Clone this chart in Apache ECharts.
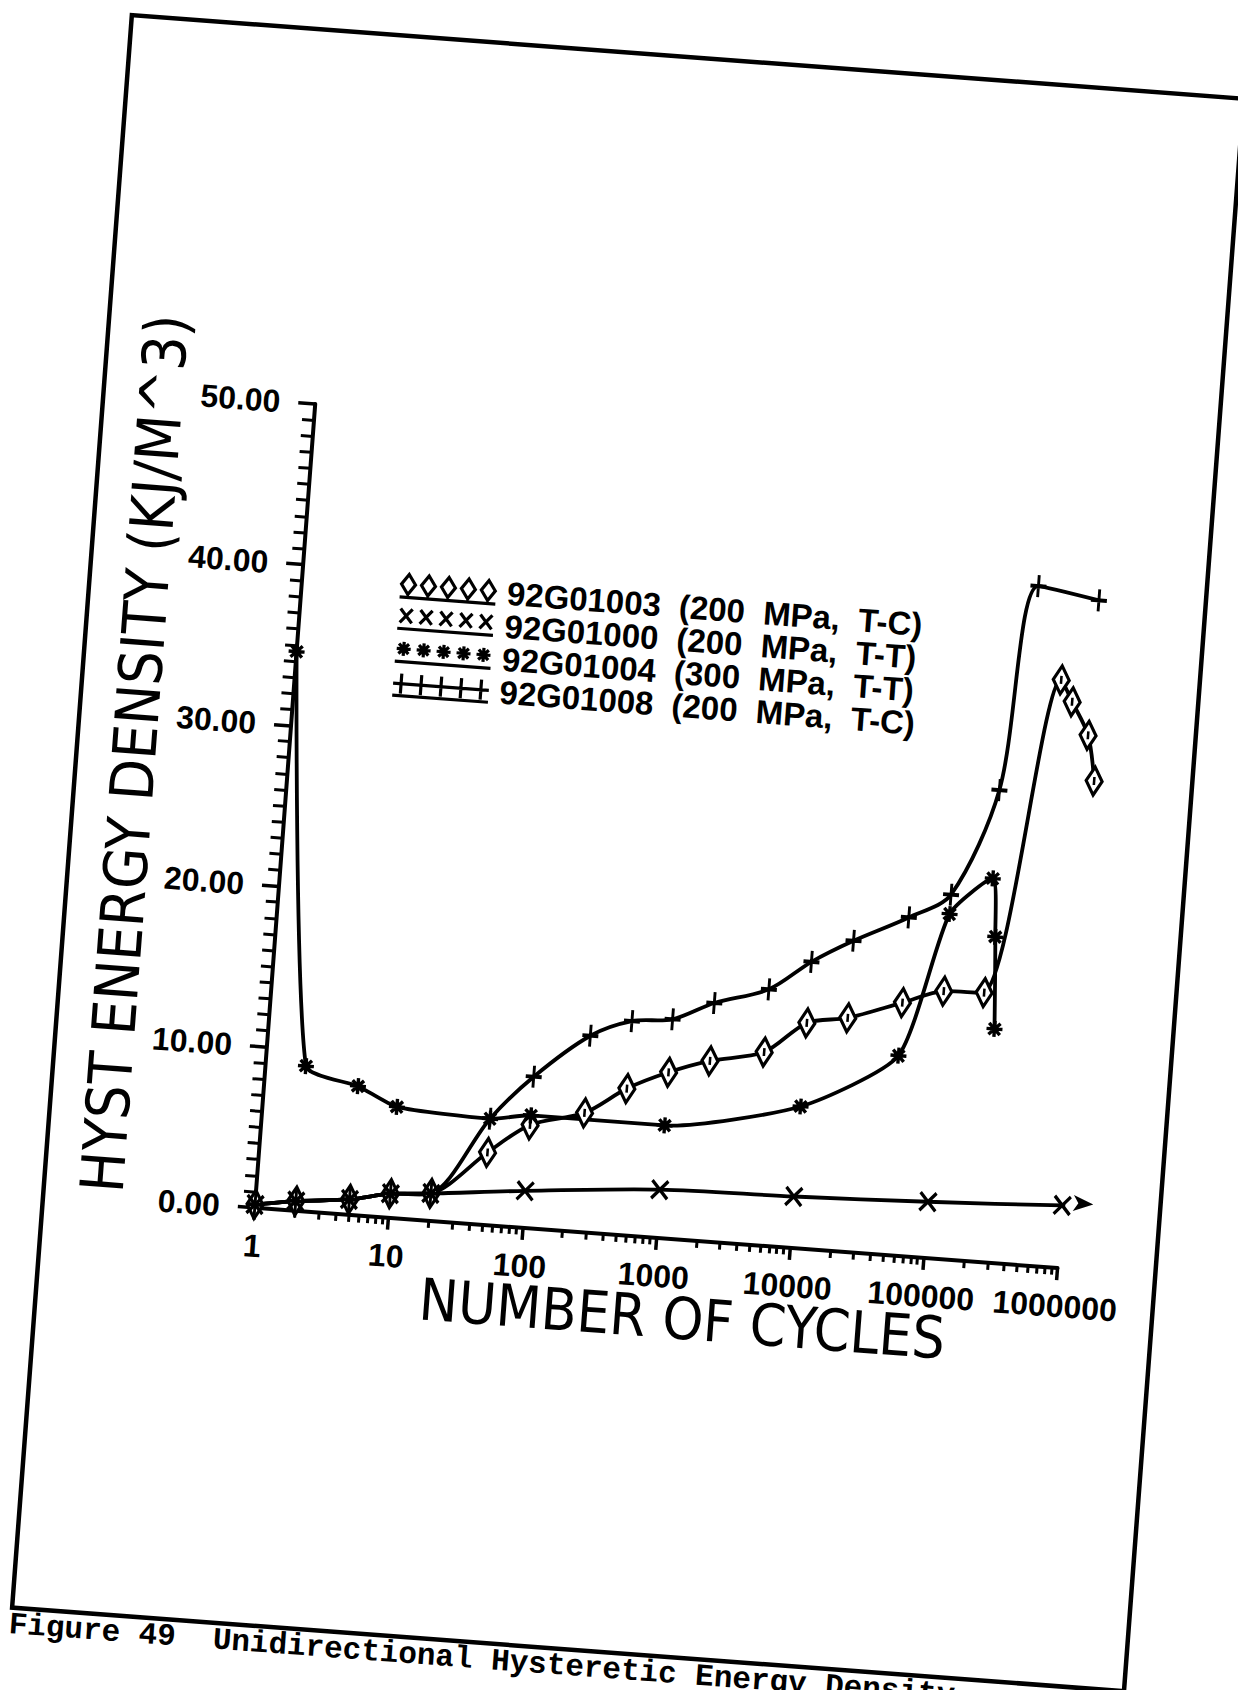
<!DOCTYPE html>
<html>
<head>
<meta charset="utf-8">
<script src="https://cdn.jsdelivr.net/npm/echarts@6/dist/echarts.min.js"></script>
<style>
  html, body { margin: 0; padding: 0; background: #fff; overflow: hidden; width: 1238px; height: 1690px; }
  /* the printed page sits slightly turned on the sheet */
  #page { position: absolute; left: 0; top: 0; width: 1238px; height: 1690px;
          transform: rotate(4.3deg); transform-origin: 50% 50%; background: #fff; }
</style>
</head>
<body>
<div id="page"></div>
<script>
// Specimens and their loading conditions (legend order)
const specimenIds = ['92G01003', '92G01000', '92G01004', '92G01008'];
const loadConditions = ['(200  MPa,  T-C)', '(200  MPa,  T-T)', '(300  MPa,  T-T)', '(200  MPa,  T-C)'];

// 92G01003 - diamonds
const cycles1003 = [1, 2, 5, 10, 20, 50, 100, 250, 500, 1000, 2000, 5000, 10000, 20000, 50000, 100000, 200000, 500000, 620000, 850000, 1000000];
const energy1003 = [0.2, 0.6, 0.95, 1.5, 1.7, 4.5, 6.4, 7.4, 9.1, 10.3, 11.2, 12.0, 14.0, 14.5, 15.7, 16.6, 16.7, 36.4, 35.1, 33.1, 30.3];

// 92G01000 - crosses (last entry is the run-out arrow)
const cycles1000 = [1, 2, 5, 10, 20, 100, 1000, 10000, 100000, 1000000, 1700000];
const energy1000 = [0.2, 0.6, 0.95, 1.5, 1.7, 2.3, 3.0, 3.2, 3.5, 3.9, 4.1];

// 92G01004 - stars
const cycles1004 = [1, 2, 5, 10, 50, 100, 1000, 10000, 50000, 100000, 200000, 225000, 250000];
const energy1004 = [34.6, 9.0, 8.0, 6.9, 6.6, 7.0, 7.0, 8.8, 12.4, 21.4, 23.8, 20.2, 14.5];

// 92G01008 - pluses
const cycles1008 = [1, 2, 5, 10, 20, 50, 100, 250, 500, 1000, 2000, 5000, 10000, 20000, 50000, 100000, 200000, 300000, 860000];
const energy1008 = [0.2, 0.6, 0.95, 1.5, 1.7, 6.6, 9.4, 12.2, 13.3, 13.6, 14.8, 15.9, 17.8, 19.3, 21.0, 22.6, 29.3, 42.1, 41.5];

// Axis ticks
const xTickValues = [1, 10, 100, 1000, 10000, 100000, 1000000];
const xTickLabels = ['1', '10', '100', '1000', '10000', '100000', '1000000'];
const yTickValues = [0, 10, 20, 30, 40, 50];
const yTickLabels = ['0.00', '10.00', '20.00', '30.00', '40.00', '50.00'];

// intermediate log ticks 2..9 within each decade
const xMinorTickValues = [];
for (let d = 1; d < 1000000; d *= 10) {
  for (let k = 2; k <= 9; k++) xMinorTickValues.push(k * d);
}

const captionText = 'Figure 49  Unidirectional Hysteretic Energy Density';

// Plotter-style marker shapes
const diamondPath = 'path://M8,0L16,14L8,28L0,14ZM8,10L8,18';
const crossPath = 'path://M0,0L16,18M16,0L0,18';
const starPath = 'path://M8,0L8,16M0,8L16,8M2.3,2.3L13.7,13.7M13.7,2.3L2.3,13.7';
const plusPath = 'path://M8,0L8,22M0,11L16,11';

// Legend icons: five markers on a short line
const legendDiamonds = 'path://M8,0L15,10L8,20L1,10ZM28,0L35,10L28,20L21,10ZM48,0L55,10L48,20L41,10ZM68,0L75,10L68,20L61,10ZM88,0L95,10L88,20L81,10ZM0,23L96,23';
const legendCrosses = 'path://M2,3L14,17M14,3L2,17M22,3L34,17M34,3L22,17M42,3L54,17M54,3L42,17M62,3L74,17M74,3L62,17M82,3L94,17M94,3L82,17M0,23L96,23';
const legendStars = 'path://M8,3L8,17M1,10L15,10M3,5L13,15M13,5L3,15M28,3L28,17M21,10L35,10M23,5L33,15M33,5L23,15M48,3L48,17M41,10L55,10M43,5L53,15M53,5L43,15M68,3L68,17M61,10L75,10M63,5L73,15M73,5L63,15M88,3L88,17M81,10L95,10M83,5L93,15M93,5L83,15M0,23L96,23';
const legendPluses = 'path://M8,1L8,21M28,1L28,21M48,1L48,21M68,1L68,21M88,1L88,21M0,11L96,11M0,23L96,23';

const titleFont = "'Liberation Sans Narrow', 'DejaVu Sans Condensed', 'Liberation Sans', sans-serif";
const tickFont = "'Liberation Sans', Arial, sans-serif";

function pairs(xs, ys) {
  return xs.map((x, i) => [x, ys[i]]);
}

function curve(name, xs, ys, symbol, size, smooth) {
  return {
    name: name,
    type: 'line',
    xAxisIndex: 0,
    yAxisIndex: 0,
    data: pairs(xs, ys),
    smooth: smooth,
    symbol: symbol,
    symbolSize: size,
    showSymbol: true,
    showAllSymbol: true,
    clip: false,
    lineStyle: { color: '#000', width: 3.8 },
    itemStyle: { color: '#fff', borderColor: '#000', borderWidth: 3.4 },
    emphasis: { disabled: true },
    z: 3
  };
}

const s1003 = curve(specimenIds[0], cycles1003, energy1003, diamondPath, [16, 28], 0.3);
const s1000 = curve(specimenIds[1], cycles1000, energy1000, crossPath, [16, 18], 0.3);
const s1004 = curve(specimenIds[2], cycles1004, energy1004, starPath, [16, 16], 0.2);
const s1008 = curve(specimenIds[3], cycles1008, energy1008, plusPath, [16, 22], 0.3);

// run-out arrow on the last 92G01000 entry
const lastIdx = s1000.data.length - 1;
s1000.data[lastIdx] = {
  value: s1000.data[lastIdx],
  symbol: 'arrow',
  symbolSize: [12, 20],
  symbolRotate: -90,
  itemStyle: { color: '#000', borderWidth: 0 }
};

const gridRect = { left: 283, top: 428, right: 150, bottom: 456, containLabel: false };

const chart = echarts.init(document.getElementById('page'), null, { renderer: 'svg', width: 1238, height: 1690 });

chart.setOption({
  animation: false,
  backgroundColor: '#fff',
  grid: [Object.assign({}, gridRect), Object.assign({}, gridRect)],
  legend: {
    orient: 'vertical',
    left: 375,
    top: 581,
    itemWidth: 96,
    itemHeight: 24,
    itemGap: 0,
    selectedMode: false,
    data: [
      { name: specimenIds[0], icon: legendDiamonds },
      { name: specimenIds[1], icon: legendCrosses },
      { name: specimenIds[2], icon: legendStars },
      { name: specimenIds[3], icon: legendPluses }
    ],
    itemStyle: { color: '#fff', borderColor: '#000', borderWidth: 3.2 },
    formatter: name => name + '  ' + loadConditions[specimenIds.indexOf(name)],
    textStyle: {
      color: '#000',
      fontFamily: tickFont,
      fontWeight: 'bold',
      fontSize: 33,
      lineHeight: 30.5,
      padding: [0, 0, 0, 6]
    }
  },
  xAxis: [
    {
      type: 'log',
      logBase: 10,
      gridIndex: 0,
      min: 1,
      max: 1000000,
      position: 'bottom',
      name: 'NUMBER OF CYCLES',
      nameLocation: 'middle',
      nameGap: 50,
      nameMoveOverlap: false,
      nameTextStyle: {
        color: '#000',
        fontFamily: titleFont,
        fontSize: 58,
        fontWeight: 'normal',
        padding: [0, 0, 0, 64]
      },
      axisLine: { show: true, onZero: false, lineStyle: { color: '#000', width: 4 } },
      axisTick: { show: true, length: 12, customValues: xTickValues, lineStyle: { color: '#000', width: 3.5 } },
      axisLabel: {
        show: true,
        customValues: xTickValues,
        margin: 22,
        color: '#000',
        fontFamily: tickFont,
        fontWeight: 'bold',
        fontSize: 32,
        formatter: v => {
          const i = xTickValues.findIndex(t => Math.abs(Math.log10(t) - Math.log10(v)) < 1e-6);
          return i >= 0 ? xTickLabels[i] : '';
        }
      },
      splitLine: { show: false }
    },
    {
      type: 'log',
      logBase: 10,
      gridIndex: 1,
      min: 1,
      max: 1000000,
      position: 'bottom',
      axisLine: { show: false },
      axisTick: { show: true, length: 7, customValues: xMinorTickValues, lineStyle: { color: '#000', width: 3 } },
      axisLabel: { show: false },
      splitLine: { show: false }
    }
  ],
  yAxis: [
    {
      type: 'value',
      gridIndex: 0,
      min: 0,
      max: 50,
      interval: 10,
      name: 'HYST ENERGY DENSITY (KJ/M^3)',
      nameLocation: 'middle',
      nameRotate: 90,
      nameGap: 124,
      nameMoveOverlap: false,
      nameTextStyle: {
        color: '#000',
        fontFamily: titleFont,
        fontSize: 60,
        fontWeight: 'normal',
        padding: [0, 0, 0, 82]
      },
      axisLine: { show: true, onZero: false, lineStyle: { color: '#000', width: 4 } },
      axisTick: { show: true, length: 17, lineStyle: { color: '#000', width: 3.5 } },
      minorTick: { show: true, splitNumber: 10, length: 12, lineStyle: { color: '#000', width: 3 } },
      axisLabel: {
        margin: 35,
        color: '#000',
        fontFamily: tickFont,
        fontWeight: 'bold',
        fontSize: 32,
        formatter: v => {
          const i = yTickValues.indexOf(Math.round(v));
          return i >= 0 ? yTickLabels[i] : '';
        }
      },
      splitLine: { show: false },
      minorSplitLine: { show: false }
    },
    {
      type: 'value',
      gridIndex: 1,
      min: 0,
      max: 50,
      show: false
    }
  ],
  graphic: [
    {
      type: 'rect',
      silent: true,
      z: -1,
      shape: { x: 71, y: 54, width: 1115, height: 1597 },
      style: { fill: 'none', stroke: '#000', lineWidth: 4.5 }
    },
    {
      type: 'text',
      silent: true,
      x: 69,
      y: 1668,
      style: {
        text: captionText,
        font: "bold 31px 'Liberation Mono', 'Courier New', monospace",
        fill: '#000',
        verticalAlign: 'middle'
      }
    }
  ],
  series: [s1003, s1000, s1004, s1008]
});
</script>
</body>
</html>
